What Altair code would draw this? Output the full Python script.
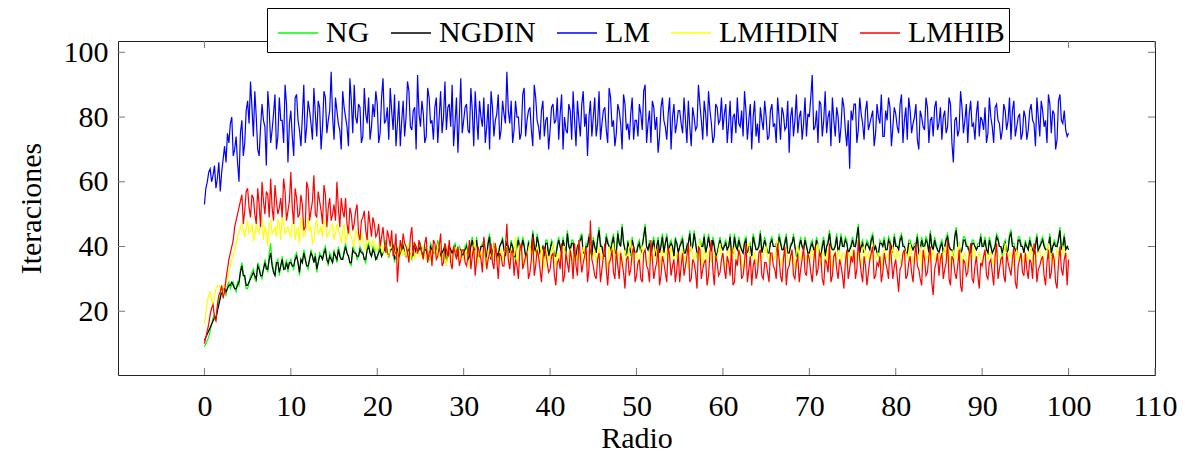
import altair as alt
import numpy as np
import pandas as pd

# x grid (Radio): main samples every 1/3 and in-between samples every 1/3 offset by 1/6
radio_a = np.round(np.linspace(0, 100, 301), 4)
radio_b = np.round(np.linspace(1 / 6, 100 - 1 / 6, 300), 4)

ng_a = [
    9, 11, 14, 18, 17, 23, 27, 26, 28, 27, 29, 26, 28, 35, 30,
    27, 31, 33, 29, 34, 30, 36, 32, 41, 33, 35, 31, 37, 34, 32,
    36, 33, 38, 31, 35, 37, 33, 39, 35, 32, 38, 36, 40, 34, 37,
    39, 35, 38, 36, 41, 37, 34, 39, 36, 40, 38, 35, 41, 37, 39,
    36, 40, 38, 42, 37, 39, 35, 40, 38, 41, 37, 39, 36, 40, 38,
    41, 37, 39, 36, 40, 38, 42, 37, 39, 35, 40, 38, 41, 36, 39,
    38, 41, 37, 43, 39, 36, 40, 42, 37, 44, 38, 40, 36, 41, 39,
    42, 38, 40, 36, 43, 39, 41, 37, 40, 45, 38, 41, 39, 36, 42,
    39, 41, 37, 43, 38, 40, 45, 39, 42, 37, 41, 44, 38, 40, 39,
    43, 38, 46, 40, 37, 42, 39, 44, 38, 41, 47, 39, 42, 37, 40,
    38, 42, 40, 47, 39, 37, 43, 40, 38, 44, 41, 39, 42, 37, 41,
    40, 43, 38, 41, 39, 45, 37, 42, 40, 38, 44, 39, 41, 37, 43,
    39, 42, 40, 37, 44, 39, 41, 38, 43, 40, 37, 42, 39, 45, 40,
    41, 38, 43, 40, 37, 42, 39, 44, 38, 41, 40, 37, 43, 39, 41,
    38, 42, 39, 41, 37, 43, 40, 45, 39, 41, 38, 44, 40, 42, 39,
    43, 40, 47, 41, 38, 42, 39, 44, 40, 37, 41, 43, 39, 42, 38,
    41, 39, 44, 40, 37, 42, 39, 41, 38, 43, 40, 42, 45, 39, 41,
    38, 42, 40, 44, 39, 37, 46, 41, 39, 43, 40, 38, 42, 39, 41,
    40, 43, 38, 41, 39, 44, 40, 37, 42, 39, 45, 41, 38, 43, 40,
    42, 39, 41, 38, 44, 40, 43, 39, 41, 37, 42, 40, 46, 41, 39,
    40,
]
ng_b = [
    10, 12, 16, 19, 21, 25, 27, 25, 29, 28, 27, 29, 33, 32, 27,
    29, 32, 30, 35, 31, 33, 34, 38, 35, 31, 36, 34, 33, 36, 35,
    34, 37, 35, 36, 39, 34, 36, 37, 38, 35, 37, 39, 36, 38, 35,
    37, 40, 36, 39, 38, 35, 40, 38, 37, 39, 36, 40, 38, 40, 36,
    39, 37, 40, 38, 39, 41, 38, 37, 40, 38, 40, 37, 41, 38, 40,
    38, 40, 37, 41, 38, 39, 40, 38, 41, 37, 39, 40, 38, 40, 37,
    40, 36, 41, 39, 43, 37, 41, 38, 42, 36, 41, 38, 40, 43, 37,
    40, 42, 37, 41, 39, 43, 37, 42, 39, 41, 44, 38, 40, 42, 37,
    42, 37, 41, 40, 43, 38, 41, 42, 37, 40, 43, 38, 41, 44, 37,
    40, 43, 41, 37, 44, 40, 42, 38, 45, 40, 42, 37, 40, 43, 38,
    41, 38, 44, 40, 42, 41, 37, 43, 41, 38, 44, 41, 40, 43, 38,
    42, 38, 41, 45, 40, 42, 38, 41, 44, 40, 41, 43, 37, 41, 40,
    41, 39, 44, 38, 41, 43, 39, 42, 38, 41, 44, 39, 41, 38, 43,
    38, 42, 40, 41, 44, 39, 42, 38, 41, 44, 37, 41, 40, 43, 38,
    41, 39, 43, 38, 41, 37, 42, 41, 39, 44, 40, 41, 43, 38, 41,
    41, 44, 38, 42, 40, 41, 43, 39, 38, 42, 41, 39, 43, 40, 44,
    40, 43, 41, 38, 42, 40, 41, 44, 39, 41, 43, 38, 41, 43, 39,
    41, 38, 43, 41, 39, 44, 40, 38, 43, 41, 38, 42, 40, 41, 44,
    41, 39, 43, 38, 41, 43, 40, 41, 38, 44, 41, 39, 43, 41, 38,
    40, 43, 39, 41, 38, 42, 41, 39, 44, 40, 41, 43, 39, 44, 40,
]

ngdin_a = [
    11, 13, 15, 17, 18, 22, 26, 27, 27, 28, 28, 27, 29, 34, 31,
    28, 30, 32, 30, 33, 31, 35, 33, 38, 32, 35, 32, 36, 33, 33,
    35, 34, 37, 32, 35, 36, 34, 38, 35, 33, 37, 36, 39, 35, 36,
    38, 36, 37, 36, 40, 37, 35, 38, 37, 39, 38, 36, 40, 37, 38,
    37, 39, 38, 41, 37, 39, 36, 39, 38, 40, 37, 39, 37, 40, 38,
    40, 37, 39, 37, 39, 38, 41, 37, 39, 36, 40, 38, 40, 37, 39,
    38, 40, 37, 42, 39, 37, 40, 41, 37, 43, 38, 40, 37, 41, 39,
    41, 38, 40, 37, 42, 39, 40, 38, 40, 44, 38, 41, 39, 37, 41,
    39, 40, 37, 42, 38, 40, 44, 39, 41, 37, 41, 43, 38, 40, 39,
    42, 38, 45, 40, 37, 41, 39, 43, 38, 41, 46, 39, 41, 38, 40,
    38, 41, 40, 46, 39, 37, 42, 40, 38, 43, 41, 39, 41, 37, 41,
    40, 42, 38, 41, 39, 44, 38, 41, 40, 38, 43, 39, 40, 38, 42,
    39, 41, 40, 38, 43, 39, 40, 38, 42, 40, 37, 41, 39, 44, 40,
    40, 38, 42, 40, 38, 41, 39, 43, 38, 41, 40, 37, 42, 39, 40,
    38, 41, 39, 40, 37, 42, 40, 44, 39, 40, 38, 43, 40, 41, 39,
    42, 40, 46, 40, 38, 41, 39, 43, 40, 38, 41, 42, 39, 41, 38,
    40, 39, 43, 40, 38, 41, 39, 40, 38, 42, 40, 41, 44, 39, 40,
    38, 41, 40, 43, 39, 38, 45, 40, 39, 42, 40, 38, 41, 39, 40,
    40, 42, 38, 40, 39, 43, 40, 38, 41, 39, 44, 40, 38, 42, 40,
    41, 39, 40, 38, 43, 40, 42, 39, 40, 38, 41, 40, 45, 40, 39,
    39,
]
ngdin_b = [
    12, 14, 16, 18, 20, 24, 27, 26, 28, 29, 27, 28, 32, 31, 28,
    29, 31, 31, 34, 31, 33, 33, 36, 34, 31, 35, 34, 33, 35, 35,
    34, 36, 35, 36, 38, 34, 36, 37, 37, 35, 37, 38, 36, 37, 35,
    37, 39, 36, 38, 38, 35, 39, 38, 37, 38, 36, 39, 38, 39, 36,
    38, 37, 39, 38, 39, 40, 38, 37, 39, 38, 39, 37, 40, 38, 39,
    38, 39, 37, 40, 38, 39, 39, 38, 40, 37, 39, 39, 38, 39, 37,
    39, 36, 40, 39, 42, 37, 40, 38, 41, 36, 40, 38, 40, 42, 37,
    40, 41, 37, 40, 39, 42, 37, 41, 39, 40, 43, 38, 40, 41, 37,
    41, 37, 40, 40, 42, 38, 40, 41, 37, 40, 42, 38, 40, 43, 37,
    40, 42, 40, 37, 43, 40, 41, 38, 44, 40, 41, 37, 40, 42, 38,
    40, 38, 43, 40, 41, 40, 37, 42, 40, 38, 43, 40, 40, 42, 38,
    41, 38, 40, 44, 40, 41, 38, 40, 43, 40, 40, 42, 37, 40, 40,
    40, 39, 43, 38, 40, 42, 39, 41, 38, 40, 43, 39, 40, 38, 42,
    38, 41, 40, 40, 43, 39, 41, 38, 40, 43, 37, 40, 40, 42, 38,
    40, 39, 42, 38, 40, 37, 41, 40, 39, 43, 40, 40, 42, 38, 40,
    40, 43, 38, 41, 40, 40, 42, 39, 38, 41, 40, 39, 42, 40, 43,
    40, 42, 40, 38, 41, 40, 40, 43, 39, 40, 42, 38, 40, 42, 39,
    40, 38, 42, 40, 39, 43, 40, 38, 42, 40, 38, 41, 40, 40, 43,
    40, 39, 42, 38, 40, 42, 40, 40, 38, 43, 40, 39, 42, 40, 38,
    40, 42, 39, 40, 38, 41, 40, 39, 43, 40, 40, 42, 39, 43, 40,
]

lm_a = [
    53, 60, 64, 62, 58, 66, 63, 71, 75, 78, 68, 74, 60, 79, 72,
    85, 91, 74, 80, 68, 84, 77, 88, 72, 81, 70, 86, 79, 90, 66,
    82, 68, 87, 76, 80, 72, 85, 78, 89, 74, 83, 77, 86, 79, 94,
    73, 82, 76, 88, 80, 71, 85, 90, 78, 83, 74, 81, 86, 77, 80,
    84, 75, 92, 79, 73, 82, 87, 78, 71, 85, 80, 88, 76, 83, 93,
    77, 81, 74, 86, 79, 83, 72, 88, 80, 76, 84, 90, 78, 69, 92,
    79, 84, 75, 82, 88, 73, 80, 86, 77, 70, 83, 79, 87, 76, 81,
    94, 78, 72, 85, 80, 75, 89, 79, 83, 71, 86, 77, 82, 74, 80,
    76, 84, 79, 73, 87, 80, 75, 82, 88, 71, 79, 84, 77, 68, 85,
    80, 74, 88, 78, 83, 72, 86, 79, 75, 82, 70, 84, 78, 81, 73,
    79, 84, 76, 90, 78, 72, 83, 80, 74, 86, 77, 81, 70, 84, 78,
    82, 75, 79, 85, 71, 80, 77, 84, 73, 81, 88, 78, 74, 83, 79,
    76, 84, 78, 72, 81, 86, 77, 74, 82, 79, 70, 85, 78, 83, 76,
    80, 74, 84, 78, 86, 73, 81, 77, 69, 83, 79, 75, 82, 78, 74,
    80, 93, 77, 72, 84, 79, 75, 82, 86, 74, 80, 77, 83, 71, 64,
    79, 84, 76, 81, 73, 85, 78, 82, 75, 80, 87, 74, 79, 83, 77,
    81, 75, 87, 79, 73, 82, 78, 84, 70, 80, 76, 83, 79, 74, 85,
    78, 73, 82, 77, 84, 66, 80, 76, 83, 79, 72, 85, 78, 81, 74,
    79, 83, 75, 80, 72, 84, 78, 76, 82, 79, 73, 85, 77, 81, 75,
    80, 76, 84, 78, 86, 74, 82, 79, 87, 75, 81, 73, 87, 78, 76,
    75,
]
lm_b = [
    58, 63, 60, 65, 61, 57, 67, 66, 72, 80, 70, 66, 75, 68, 82,
    78, 83, 88, 70, 77, 79, 65, 82, 76, 87, 74, 79, 72, 84, 78,
    74, 86, 79, 71, 90, 77, 82, 73, 81, 85, 70, 88, 75, 82, 80,
    86, 78, 70, 83, 77, 92, 75, 80, 84, 72, 89, 78, 73, 84, 88,
    72, 86, 78, 83, 89, 76, 71, 85, 79, 74, 91, 77, 82, 70, 81,
    85, 72, 89, 78, 73, 86, 80, 75, 91, 83, 77, 71, 86, 80, 75,
    83, 76, 89, 71, 80, 85, 77, 72, 84, 88, 74, 81, 73, 85, 78,
    82, 85, 76, 80, 73, 87, 74, 82, 76, 90, 79, 73, 85, 79, 70,
    83, 78, 86, 81, 70, 76, 84, 73, 79, 85, 74, 88, 81, 80, 74,
    86, 78, 73, 82, 76, 89, 77, 71, 84, 78, 87, 76, 73, 86, 79,
    74, 81, 88, 72, 82, 85, 76, 69, 83, 79, 73, 86, 80, 75, 82,
    78, 86, 72, 77, 83, 76, 90, 79, 85, 74, 82, 72, 84, 78, 86,
    81, 72, 85, 80, 75, 78, 82, 88, 73, 84, 80, 74, 72, 79, 85,
    73, 82, 77, 72, 80, 83, 76, 85, 80, 74, 87, 80, 73, 86, 81,
    86, 76, 82, 85, 74, 88, 80, 71, 79, 83, 72, 86, 76, 79, 82,
    84, 72, 86, 78, 82, 76, 80, 71, 84, 78, 74, 82, 86, 71, 83,
    77, 84, 72, 83, 86, 75, 80, 73, 82, 77, 86, 72, 80, 83, 76,
    83, 80, 75, 86, 72, 79, 74, 88, 75, 84, 81, 77, 73, 85, 80,
    76, 72, 86, 77, 83, 79, 73, 84, 76, 86, 82, 74, 80, 73, 82,
    73, 82, 79, 71, 80, 85, 77, 72, 84, 82, 70, 85, 79, 82, 74,
]

lmhdin_a = [
    16, 23, 26, 21, 27, 28, 26, 28, 30, 34, 37, 41, 44, 47, 43,
    48, 45, 42, 47, 44, 49, 46, 40, 48, 45, 43, 47, 50, 44, 46,
    43, 48, 45, 41, 47, 44, 49, 46, 42, 48, 45, 43, 47, 44, 46,
    42, 47, 44, 45, 41, 46, 43, 40, 44, 41, 43, 39, 42, 40, 41,
    39, 42, 38, 40, 37, 41, 38, 36, 40, 39, 37, 41, 38, 36, 39,
    37, 40, 36, 39, 35, 38, 41, 36, 38, 34, 39, 37, 40, 36, 38,
    36, 39, 34, 38, 42, 35, 37, 40, 33, 38, 36, 41, 35, 39, 37,
    40, 35, 38, 43, 36, 39, 34, 37, 41, 35, 38, 36, 40, 33, 38,
    36, 41, 34, 38, 37, 40, 35, 39, 33, 37, 42, 36, 38, 34, 41,
    37, 35, 40, 36, 39, 33, 38, 41, 35, 37, 34, 39, 36, 42, 35,
    38, 34, 40, 37, 35, 41, 36, 38, 33, 39, 37, 35, 40, 36, 38,
    35, 39, 37, 33, 40, 36, 38, 42, 34, 37, 39, 35, 38, 36, 41,
    37, 34, 39, 36, 40, 35, 38, 33, 37, 41, 36, 38, 34, 39, 37,
    40, 35, 38, 36, 42, 34, 37, 39, 35, 38, 33, 40, 36, 38, 37,
    35, 39, 37, 41, 34, 38, 36, 40, 33, 37, 39, 35, 38, 34, 37,
    39, 36, 38, 34, 40, 37, 35, 41, 36, 38, 33, 39, 37, 35, 40,
    36, 38, 34, 39, 37, 41, 35, 38, 36, 33, 40, 37, 35, 39, 36,
    38, 35, 40, 36, 34, 39, 37, 41, 35, 38, 33, 37, 40, 36, 38,
    35, 39, 36, 38, 34, 40, 37, 35, 41, 36, 38, 34, 39, 37, 35,
    38, 36, 40, 34, 37, 39, 35, 38, 41, 36, 34, 39, 37, 40, 38,
    37,
]
lmhdin_b = [
    19, 25, 24, 25, 28, 27, 27, 29, 32, 36, 39, 43, 46, 45, 46,
    44, 47, 43, 45, 48, 42, 45, 47, 44, 46, 48, 42, 47, 45, 44,
    47, 42, 46, 49, 43, 46, 45, 41, 47, 44, 46, 48, 43, 45, 47,
    44, 45, 41, 47, 43, 44, 41, 45, 42, 44, 40, 43, 41, 42, 39,
    41, 39, 41, 37, 40, 39, 37, 40, 37, 38, 40, 36, 39, 38, 37,
    39, 37, 38, 36, 40, 37, 38, 37, 36, 40, 35, 38, 37, 39, 37,
    38, 35, 37, 40, 36, 39, 38, 35, 39, 37, 40, 36, 38, 36, 40,
    36, 39, 37, 35, 40, 37, 36, 39, 36, 38, 40, 35, 37, 39, 36,
    39, 36, 38, 35, 40, 36, 38, 37, 39, 36, 35, 40, 36, 38, 37,
    39, 37, 36, 38, 35, 40, 37, 36, 38, 39, 36, 37, 40, 36, 38,
    36, 39, 37, 35, 38, 36, 40, 35, 37, 36, 39, 38, 36, 37, 35,
    38, 36, 35, 39, 37, 38, 35, 37, 39, 36, 37, 38, 36, 39, 37,
    35, 38, 37, 38, 36, 39, 35, 37, 40, 36, 37, 36, 38, 36, 39,
    37, 38, 36, 40, 37, 36, 39, 36, 37, 36, 39, 37, 38, 36, 35,
    38, 36, 39, 36, 38, 35, 39, 36, 38, 36, 37, 38, 36, 38, 36,
    37, 38, 36, 39, 36, 38, 37, 37, 38, 35, 38, 36, 38, 37, 37,
    39, 36, 37, 38, 36, 38, 37, 36, 40, 37, 36, 38, 37, 36, 38,
    36, 38, 37, 39, 37, 36, 39, 37, 37, 36, 39, 36, 38, 37, 36,
    37, 38, 37, 36, 38, 37, 36, 38, 37, 38, 36, 37, 36, 38, 37,
    37, 38, 36, 37, 38, 36, 37, 39, 37, 38, 36, 38, 37, 39, 37,
]

lmhib_a = [
    10, 14, 19, 22, 17, 25, 28, 26, 33, 38, 42, 48, 52, 56, 51,
    58, 49, 55, 47, 53, 60, 50, 56, 61, 48, 54, 52, 49, 57, 51,
    63, 47, 55, 50, 53, 46, 58, 51, 62, 49, 54, 47, 56, 52, 48,
    53, 60, 46, 51, 55, 44, 50, 47, 53, 42, 49, 45, 51, 43, 47,
    44, 40, 46, 38, 43, 45, 39, 29, 42, 44, 40, 35, 46, 41, 38,
    40, 36, 43, 38, 34, 41, 37, 44, 35, 39, 42, 33, 38, 40, 36,
    39, 34, 42, 37, 31, 40, 36, 43, 33, 38, 35, 41, 30, 37, 34,
    47, 33, 39, 36, 30, 41, 35, 38, 32, 43, 34, 37, 29, 40, 35,
    33, 38, 28, 36, 41, 31, 35, 39, 30, 34, 42, 32, 37, 29, 48,
    34, 30, 38, 33, 41, 28, 36, 32, 39, 30, 35, 27, 37, 33, 40,
    31, 36, 29, 39, 33, 42, 30, 35, 28, 37, 32, 40, 31, 36, 33,
    29, 38, 34, 41, 30, 35, 27, 39, 33, 36, 31, 42, 28, 35, 32,
    38, 30, 35, 40, 29, 34, 37, 31, 41, 33, 28, 36, 32, 39, 30,
    35, 29, 38, 33, 41, 31, 36, 28, 34, 39, 30, 37, 33, 40, 31,
    36, 29, 40, 33, 37, 28, 35, 41, 31, 38, 30, 34, 27, 39, 33,
    35, 30, 42, 32, 37, 28, 36, 40, 31, 34, 29, 38, 33, 41, 30,
    36, 26, 34, 39, 31, 37, 29, 41, 33, 28, 36, 32, 40, 25, 35,
    31, 38, 33, 42, 28, 36, 30, 39, 26, 35, 32, 41, 29, 37, 27,
    34, 39, 30, 36, 28, 41, 33, 37, 29, 35, 31, 40, 27, 36, 32,
    38, 30, 35, 41, 29, 34, 37, 28, 39, 32, 36, 27, 40, 31, 38,
    36,
]
lmhib_b = [
    12, 16, 21, 18, 22, 26, 24, 30, 36, 40, 46, 50, 54, 47, 57,
    52, 56, 50, 58, 46, 54, 57, 49, 52, 59, 50, 55, 61, 48, 54,
    52, 58, 49, 56, 45, 60, 48, 54, 50, 57, 51, 59, 46, 55, 50,
    48, 52, 55, 49, 47, 52, 45, 51, 44, 48, 51, 42, 47, 49, 43,
    47, 43, 41, 45, 40, 37, 44, 36, 39, 41, 38, 43, 37, 40, 42,
    38, 41, 35, 39, 42, 36, 40, 34, 41, 37, 35, 40, 36, 34, 39,
    35, 37, 33, 40, 36, 38, 32, 39, 36, 41, 33, 36, 38, 34, 40,
    36, 38, 31, 34, 39, 33, 37, 30, 36, 31, 39, 33, 36, 38, 32,
    37, 31, 35, 33, 29, 38, 32, 36, 41, 31, 37, 35, 40, 33, 36,
    31, 36, 29, 37, 33, 35, 39, 30, 34, 38, 32, 36, 31, 38, 29,
    35, 30, 38, 34, 29, 36, 33, 40, 31, 35, 29, 37, 34, 29, 38,
    34, 31, 37, 29, 36, 32, 40, 30, 35, 28, 38, 33, 37, 31, 36,
    33, 37, 31, 28, 36, 39, 30, 35, 29, 37, 34, 30, 38, 31, 35,
    32, 38, 34, 30, 36, 29, 40, 33, 37, 31, 35, 29, 36, 32, 38,
    32, 35, 31, 38, 30, 36, 32, 29, 37, 33, 36, 31, 35, 30, 37,
    39, 33, 36, 29, 34, 32, 38, 30, 35, 37, 32, 35, 30, 36, 34,
    31, 33, 38, 30, 35, 32, 36, 34, 30, 39, 31, 37, 29, 33, 38,
    36, 30, 35, 30, 37, 32, 34, 28, 36, 31, 37, 30, 34, 31, 35,
    37, 31, 35, 32, 37, 30, 36, 31, 38, 33, 36, 29, 34, 38, 31,
    33, 36, 30, 38, 33, 36, 31, 35, 30, 38, 29, 35, 33, 36, 28,
]

series_names = ["NG", "NGDIN", "LM", "LMHDIN", "LMHIB"]
series_colors = ["#00ff00", "#000000", "#0000ff", "#ffff00", "#ff0000"]
x_ticks = [0, 10, 20, 30, 40, 50, 60, 70, 80, 90, 100, 110]
y_ticks = [20, 40, 60, 80, 100]

W, H = 1037, 334
FONT = "'Liberation Serif', 'Times New Roman', Times, serif"
FS = 30
TICK_LEN = 7

series_data = [
    (ng_a, ng_b), (ngdin_a, ngdin_b), (lm_a, lm_b), (lmhdin_a, lmhdin_b), (lmhib_a, lmhib_b),
]

rows = []
for name, (va, vb) in zip(series_names, series_data):
    assert len(va) == len(radio_a), (name, len(va))
    assert len(vb) == len(radio_b), (name, len(vb))
    for xv, yv in zip(radio_a, va):
        rows.append({"Radio": float(xv), "Iteraciones": yv, "serie": name})
    for xv, yv in zip(radio_b, vb):
        rows.append({"Radio": float(xv), "Iteraciones": yv, "serie": name})
df = pd.DataFrame(rows).sort_values(["serie", "Radio"]).reset_index(drop=True)

xscale = alt.Scale(domain=[-10, 110], nice=False, zero=False)
yscale = alt.Scale(domain=[0.3, 103.5], nice=False, zero=False)

x_axis = alt.Axis(
    values=x_ticks, title="Radio", format="d", tickSize=0, domain=False, grid=False,
    labelFont=FONT, labelFontSize=FS, labelColor="black", labelPadding=16,
    labelFlush=False, labelOverlap=False, labelBound=False,
    titleFont=FONT, titleFontSize=FS, titleFontWeight="normal", titleColor="black",
    titleX=W / 2, titleY=72, titleBaseline="alphabetic", titleAlign="center",
)
y_axis = alt.Axis(
    values=y_ticks, title="Iteraciones", format="d", tickSize=0, domain=False, grid=False,
    labelFont=FONT, labelFontSize=FS, labelColor="black", labelPadding=10,
    labelFlush=False, labelOverlap=False, labelBound=False,
    titleFont=FONT, titleFontSize=FS, titleFontWeight="normal", titleColor="black",
    titleAngle=270, titleX=-78, titleY=H / 2, titleBaseline="alphabetic", titleAlign="center",
)

legend = alt.Legend(
    title=None, orient="none", legendX=149, legendY=-33, direction="horizontal", columns=5,
    symbolType="stroke", symbolSize=1600, symbolStrokeWidth=1.3, symbolOffset=6,
    labelFont=FONT, labelFontSize=FS, labelColor="black", labelOffset=7, labelLimit=300,
    columnPadding=14, padding=4, strokeColor="black", fillColor="white",
)

color = alt.Color(
    "serie:N",
    scale=alt.Scale(domain=series_names, range=series_colors),
    legend=legend,
)

layers = []
for name in series_names:
    layers.append(
        alt.Chart(df)
        .transform_filter(alt.datum.serie == name)
        .mark_line(strokeWidth=1.2)
        .encode(
            x=alt.X("Radio:Q", scale=xscale, axis=x_axis),
            y=alt.Y("Iteraciones:Q", scale=yscale, axis=y_axis),
            color=color,
        )
    )

xt = pd.DataFrame({"Radio": x_ticks})
yt = pd.DataFrame({"Iteraciones": y_ticks})
tick_style = dict(color="#777777", strokeWidth=1)

bottom_ticks = alt.Chart(xt).mark_rule(**tick_style).encode(
    x=alt.X("Radio:Q", scale=xscale, axis=x_axis), y=alt.value(H), y2=alt.value(H - TICK_LEN))
top_ticks = alt.Chart(xt).mark_rule(**tick_style).encode(
    x=alt.X("Radio:Q", scale=xscale, axis=x_axis), y=alt.value(0), y2=alt.value(TICK_LEN))
left_ticks = alt.Chart(yt).mark_rule(**tick_style).encode(
    y=alt.Y("Iteraciones:Q", scale=yscale, axis=y_axis), x=alt.value(0), x2=alt.value(TICK_LEN))
right_ticks = alt.Chart(yt).mark_rule(**tick_style).encode(
    y=alt.Y("Iteraciones:Q", scale=yscale, axis=y_axis), x=alt.value(W), x2=alt.value(W - TICK_LEN))

chart = (
    alt.layer(bottom_ticks, top_ticks, left_ticks, right_ticks, *layers)
    .properties(
        width=W, height=H,
        autosize=alt.AutoSizeParams(type="none"),
        padding={"left": 118, "top": 41, "right": 30, "bottom": 82},
        background="white",
    )
    .configure_view(stroke="#222222", strokeWidth=1)
)

chart.save("out.html", embed_options={"renderer": "svg", "actions": False})
